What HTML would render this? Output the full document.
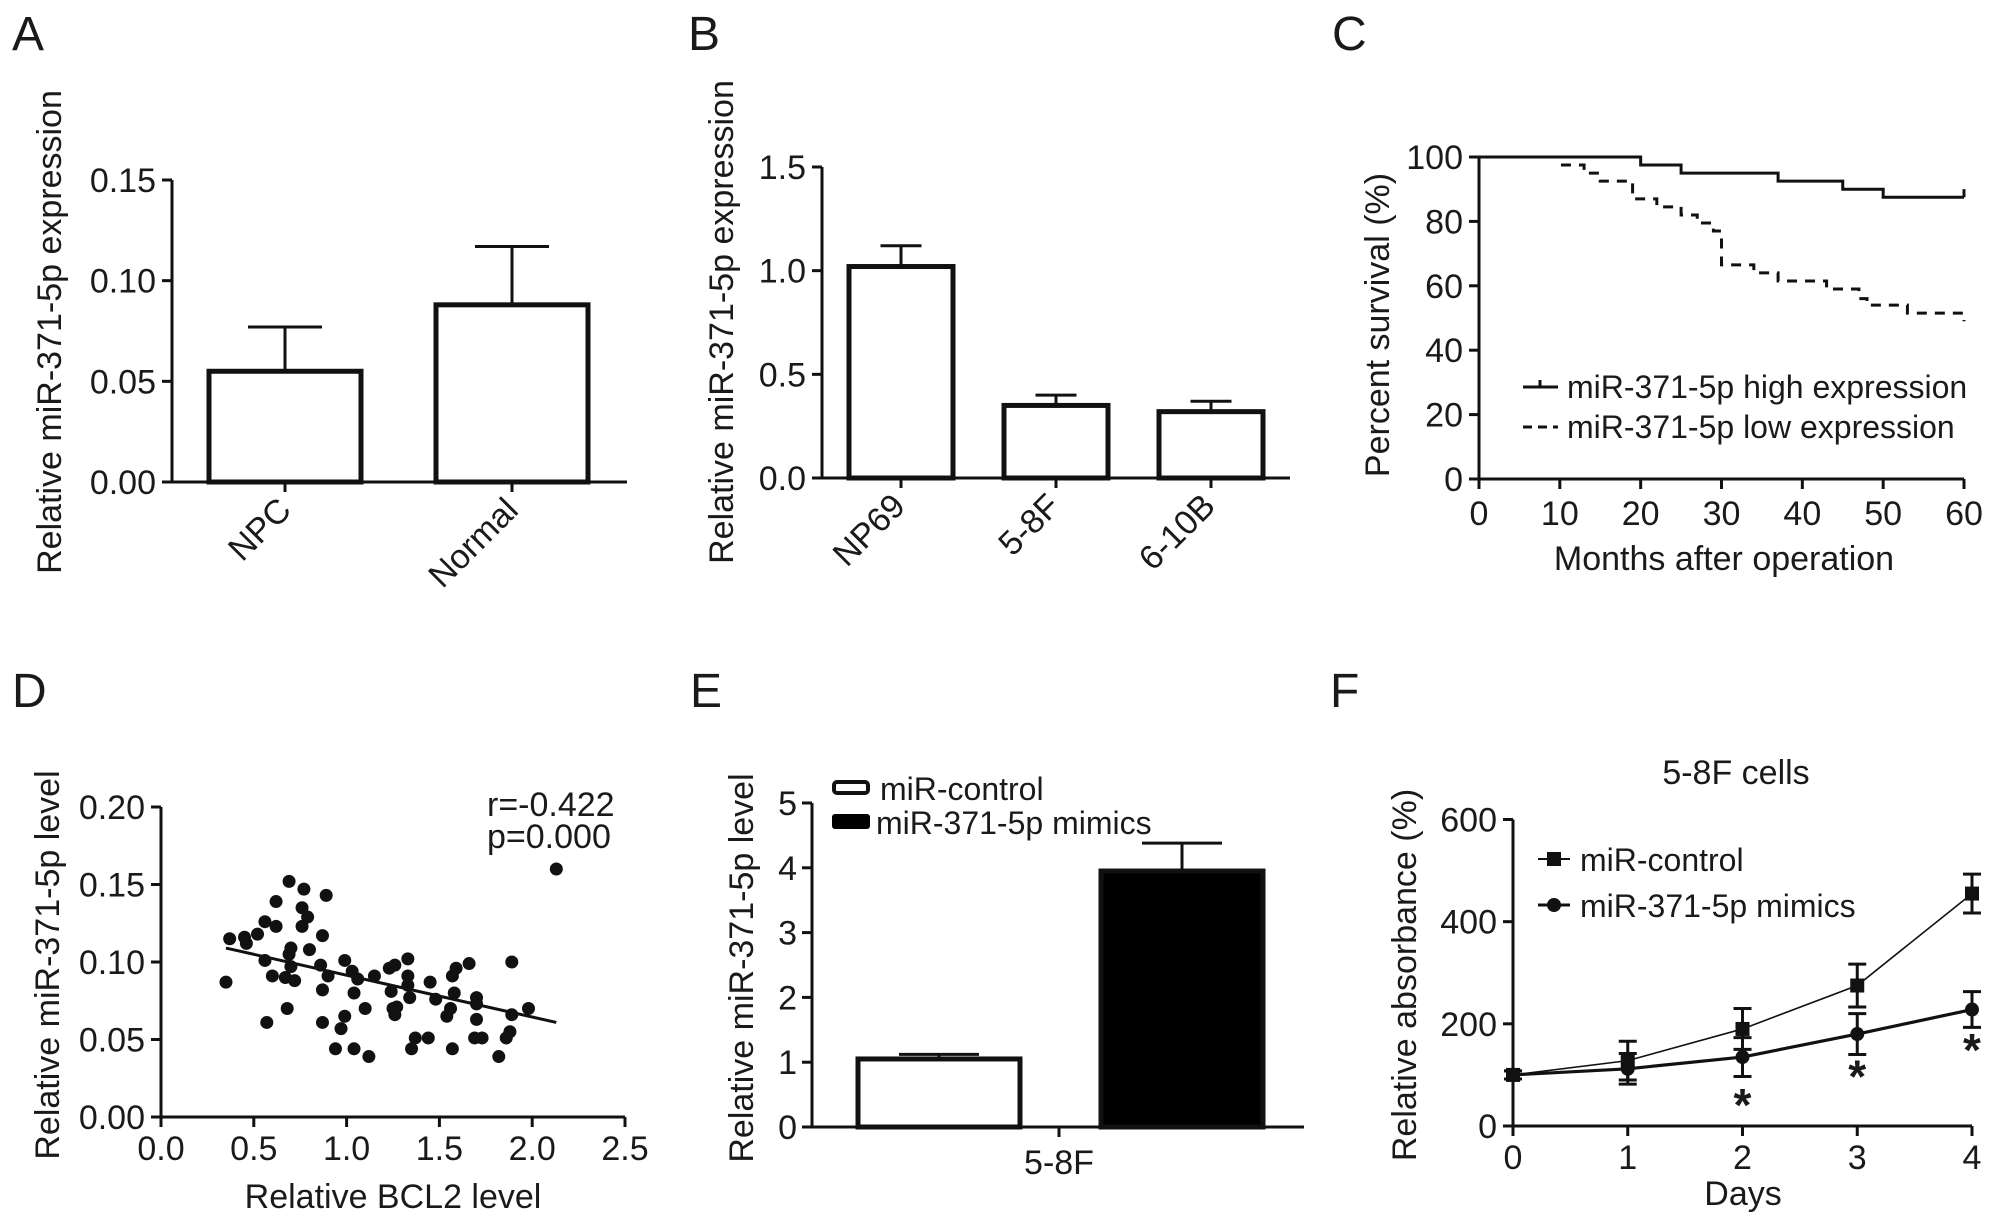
<!DOCTYPE html>
<html><head><meta charset="utf-8"><style>
html,body{margin:0;padding:0;background:#fff;}
svg{display:block;font-family:"Liberation Sans",Arial,sans-serif;}
text{fill:#1a1a1a;}
</style></head><body>
<svg id="fig" xmlns="http://www.w3.org/2000/svg" width="1995" height="1222" viewBox="0 0 1995 1222"></svg>
<script>
// ---------- Panel A data ----------
const aCategories = ["NPC", "Normal"];
const aValues = [0.055, 0.088];
const aErrors = [0.077, 0.117];
const aTicks = ["0.00", "0.05", "0.10", "0.15"];
// ---------- Panel B data ----------
const bCategories = ["NP69", "5-8F", "6-10B"];
const bValues = [1.02, 0.35, 0.32];
const bErrors = [1.12, 0.40, 0.37];
const bTicks = ["0.0", "0.5", "1.0", "1.5"];
// ---------- Panel C data ----------
const cHighX = [0, 20, 25, 37, 45, 50, 60];
const cHighY = [100, 97.5, 95, 92.5, 90, 87.5, 87.5];
const cLowX = [0, 10, 13, 15, 19, 22, 25, 27, 29, 30, 34, 37, 43, 47, 48, 53, 60];
const cLowY = [100, 97.5, 95, 92.5, 87, 84.5, 82, 79.5, 77, 66.5, 64, 61.5, 59, 56, 54, 51.5, 49];
const cYTicks = ["0", "20", "40", "60", "80", "100"];
const cXTicks = ["0", "10", "20", "30", "40", "50", "60"];
// ---------- Panel D data ----------
const dX = [0.35,0.37,0.45,0.46,0.52,0.56,0.56,0.57,0.60,0.62,0.62,0.67,0.68,0.69,0.69,0.70,0.70,0.72,0.76,0.76,0.77,0.79,0.80,0.86,0.87,0.87,0.87,0.89,0.90,0.94,0.97,0.99,0.99,1.03,1.04,1.04,1.06,1.10,1.12,1.15,1.23,1.24,1.25,1.26,1.26,1.27,1.33,1.33,1.33,1.34,1.35,1.37,1.44,1.45,1.48,1.54,1.56,1.57,1.57,1.58,1.59,1.66,1.69,1.70,1.70,1.70,1.73,1.82,1.86,1.88,1.89,1.89,1.98,2.13];
const dY = [0.087,0.115,0.116,0.112,0.118,0.126,0.101,0.061,0.091,0.123,0.139,0.090,0.070,0.152,0.105,0.097,0.109,0.088,0.135,0.123,0.147,0.129,0.108,0.098,0.117,0.082,0.061,0.143,0.091,0.044,0.057,0.101,0.065,0.094,0.044,0.080,0.089,0.070,0.039,0.091,0.096,0.081,0.070,0.098,0.066,0.071,0.102,0.091,0.085,0.077,0.044,0.051,0.051,0.087,0.076,0.065,0.070,0.044,0.091,0.080,0.096,0.099,0.051,0.077,0.073,0.063,0.051,0.039,0.051,0.055,0.066,0.100,0.070,0.160];
const dFitX = [0.35, 2.13];
const dFitY = [0.109, 0.061];
const dXTicks = ["0.0", "0.5", "1.0", "1.5", "2.0", "2.5"];
const dYTicks = ["0.00", "0.05", "0.10", "0.15", "0.20"];
// ---------- Panel E data ----------
const eSeries = ["miR-control", "miR-371-5p mimics"];
const eValues = [1.05, 3.95];
const eErrors = [1.12, 4.38];
const eTicks = ["0", "1", "2", "3", "4", "5"];
// ---------- Panel F data ----------
const fDays = [0, 1, 2, 3, 4];
const fControl = [100, 128, 190, 275, 455];
const fControlErr = [8, 38, 40, 42, 38];
const fMimics = [100, 112, 135, 180, 228];
const fMimicsErr = [8, 30, 38, 40, 35];
const fStarDays = [2, 3, 4];
const fStarY = [53, 109, 161];
const fYTicks = ["0", "200", "400", "600"];

const NS = "http://www.w3.org/2000/svg";
const svg = document.getElementById("fig");
function el(tag, attrs, parent, txt) {
  const e = document.createElementNS(NS, tag);
  for (const k in attrs) e.setAttribute(k, attrs[k]);
  if (txt !== undefined) e.textContent = txt;
  (parent || svg).appendChild(e);
  return e;
}
function lin(d0, d1, r0, r1) { return v => r0 + (v - d0) * (r1 - r0) / (d1 - d0); }
const FS = 34;

function panelLetter(t, x, y) {
  const e = el("text", {x: x, y: y, "font-size": 48}, svg, t);
  
  
}
function yAxis(g, ax, y, y0, y1, ticks, tickVals, tickRight) {
  const a = el("line", {x1: ax, y1: y(y0), x2: ax, y2: y(y1), stroke: "#111", "stroke-width": 3}, g);
  
  
  ticks.forEach((t, i) => {
    const yy = y(tickVals[i]);
    el("line", {x1: ax - 10, y1: yy, x2: ax, y2: yy, stroke: "#111", "stroke-width": 3}, g);
    const tx = el("text", {x: tickRight, y: yy + 12, "font-size": FS, "text-anchor": "end"}, g, t);
    
    
  });
}
function yTitle(g, t, cx, cy) {
  const e = el("text", {x: 0, y: 0, "font-size": FS, "text-anchor": "middle", transform: `translate(${cx},${cy}) rotate(-90)`, dy: "0.35em"}, g, t);
  
  
}

// ================= Panel A =================
(function () {
  const g = el("g", {});  
  panelLetter("A", 12, 50);
  const ax = 172, base = 482, xEnd = 627;
  const y = lin(0, 0.15, 482, 180);
  yAxis(g, ax, y, 0, 0.15, aTicks, aTicks.map(Number), 156);
  yTitle(g, "Relative miR-371-5p expression", 49, 332);
  el("line", {x1: ax, y1: base, x2: xEnd, y2: base, stroke: "#111", "stroke-width": 3}, g);
  const centers = [285, 512], bw = 152, cap = 74;
  aCategories.forEach((c, i) => {
    const cx = centers[i];
    const b = el("rect", {x: cx - bw/2, y: y(aValues[i]), width: bw, height: base - y(aValues[i]), fill: "#fff", stroke: "#111", "stroke-width": 5}, g);
    
    
    el("line", {x1: cx, y1: y(aValues[i]), x2: cx, y2: y(aErrors[i]), stroke: "#111", "stroke-width": 3}, g);
    el("line", {x1: cx - cap/2, y1: y(aErrors[i]), x2: cx + cap/2, y2: y(aErrors[i]), stroke: "#111", "stroke-width": 3}, g);
    el("line", {x1: cx, y1: base, x2: cx, y2: base + 10, stroke: "#111", "stroke-width": 3}, g);
    const t = el("text", {x: 0, y: 0, "font-size": FS, "text-anchor": "end", transform: `translate(${cx + 8},${base + 30}) rotate(-45)`}, g, c);
    
    
  });
})();

// ================= Panel B =================
(function () {
  const g = el("g", {});  
  panelLetter("B", 688, 50);
  const ax = 822, base = 478, xEnd = 1290;
  const y = lin(0, 1.5, 478, 167);
  yAxis(g, ax, y, 0, 1.5, bTicks, bTicks.map(Number), 806);
  yTitle(g, "Relative miR-371-5p expression", 721, 322);
  el("line", {x1: ax, y1: base, x2: xEnd, y2: base, stroke: "#111", "stroke-width": 3}, g);
  const centers = [901, 1056, 1211], bw = 104, cap = 41;
  bCategories.forEach((c, i) => {
    const cx = centers[i];
    const b = el("rect", {x: cx - bw/2, y: y(bValues[i]), width: bw, height: base - y(bValues[i]), fill: "#fff", stroke: "#111", "stroke-width": 5}, g);
    
    
    el("line", {x1: cx, y1: y(bValues[i]), x2: cx, y2: y(bErrors[i]), stroke: "#111", "stroke-width": 3}, g);
    el("line", {x1: cx - cap/2, y1: y(bErrors[i]), x2: cx + cap/2, y2: y(bErrors[i]), stroke: "#111", "stroke-width": 3}, g);
    el("line", {x1: cx, y1: base, x2: cx, y2: base + 10, stroke: "#111", "stroke-width": 3}, g);
    const t = el("text", {x: 0, y: 0, "font-size": FS, "text-anchor": "end", transform: `translate(${cx + 6},${base + 30}) rotate(-45)`}, g, c);
    
    
  });
})();

// ================= Panel C =================
(function () {
  const g = el("g", {});  
  panelLetter("C", 1332, 50);
  const x = lin(0, 60, 1479, 1964), y = lin(0, 100, 479, 157);
  yAxis(g, 1479, y, 0, 100, cYTicks, cYTicks.map(Number), 1463);
  yTitle(g, "Percent survival (%)", 1377, 325);
  el("line", {x1: 1479, y1: 479, x2: 1964, y2: 479, stroke: "#111", "stroke-width": 3}, g);
  cXTicks.forEach(t => {
    const xx = x(Number(t));
    el("line", {x1: xx, y1: 479, x2: xx, y2: 489, stroke: "#111", "stroke-width": 3}, g);
    const tx = el("text", {x: xx, y: 525, "font-size": FS, "text-anchor": "middle"}, g, t);
    
    
  });
  const xt = el("text", {x: 1724, y: 570, "font-size": FS, "text-anchor": "middle"}, g, "Months after operation");
  
  
  function step(xs, ys) {
    let d = `M${x(xs[0])},${y(ys[0])}`;
    for (let i = 1; i < xs.length; i++) d += ` H${x(xs[i])} V${y(ys[i])}`;
    return d;
  }
  const hi = el("path", {d: step(cHighX, cHighY), fill: "none", stroke: "#111", "stroke-width": 3}, g);
  
  
  el("line", {x1: x(60), y1: y(87.5), x2: x(60), y2: y(90), stroke: "#111", "stroke-width": 3}, g);
  const lo = el("path", {d: step(cLowX, cLowY), fill: "none", stroke: "#111", "stroke-width": 3, "stroke-dasharray": "10,8"}, g);
  
  
  const l1 = el("g", {}, g);  
  el("line", {x1: 1523, y1: 387, x2: 1558, y2: 387, stroke: "#111", "stroke-width": 3}, l1);
  el("line", {x1: 1540, y1: 380, x2: 1540, y2: 387, stroke: "#111", "stroke-width": 3}, l1);
  el("text", {x: 1567, y: 398, "font-size": 32}, l1, "miR-371-5p high expression");
  const l2 = el("g", {}, g);  
  el("line", {x1: 1523, y1: 427, x2: 1558, y2: 427, stroke: "#111", "stroke-width": 3, "stroke-dasharray": "9,6"}, l2);
  el("text", {x: 1567, y: 438, "font-size": 32}, l2, "miR-371-5p low expression");
})();

// ================= Panel D =================
(function () {
  const g = el("g", {});  
  panelLetter("D", 12, 707);
  const x = lin(0, 2.5, 161, 625), y = lin(0, 0.2, 1117, 807);
  yAxis(g, 161, y, 0, 0.2, dYTicks, dYTicks.map(Number), 145);
  yTitle(g, "Relative miR-371-5p level", 47, 965);
  el("line", {x1: 161, y1: 1117, x2: 625, y2: 1117, stroke: "#111", "stroke-width": 3}, g);
  dXTicks.forEach(t => {
    const xx = x(Number(t));
    el("line", {x1: xx, y1: 1117, x2: xx, y2: 1127, stroke: "#111", "stroke-width": 3}, g);
    const tx = el("text", {x: xx, y: 1160, "font-size": FS, "text-anchor": "middle"}, g, t);
    
    
  });
  const xt = el("text", {x: 393, y: 1208, "font-size": FS, "text-anchor": "middle"}, g, "Relative BCL2 level");
  
  
  dX.forEach((v, i) => {
    const c = el("circle", {cx: x(v), cy: y(dY[i]), r: 6.5, fill: "#111"}, g);
    
    
  });
  const f = el("line", {x1: x(dFitX[0]), y1: y(dFitY[0]), x2: x(dFitX[1]), y2: y(dFitY[1]), stroke: "#111", "stroke-width": 3}, g);
  
  
  const a1 = el("text", {x: 487, y: 816, "font-size": FS}, g, "r=-0.422");
  
  
  const a2 = el("text", {x: 487, y: 848, "font-size": FS}, g, "p=0.000");
  
  
})();

// ================= Panel E =================
(function () {
  const g = el("g", {});  
  panelLetter("E", 690, 707);
  const y = lin(0, 5, 1127, 803), base = 1127;
  yAxis(g, 812, y, 0, 5, eTicks, eTicks.map(Number), 797);
  yTitle(g, "Relative miR-371-5p level", 741, 968);
  el("line", {x1: 812, y1: base, x2: 1304, y2: base, stroke: "#111", "stroke-width": 3}, g);
  el("line", {x1: 1059, y1: base, x2: 1059, y2: base + 10, stroke: "#111", "stroke-width": 3}, g);
  const xl = el("text", {x: 1059, y: 1174, "font-size": FS, "text-anchor": "middle"}, g, "5-8F");
  
  
  const centers = [939, 1182], bw = 162, cap = 80, fills = ["#fff", "#000"];
  eSeries.forEach((s, i) => {
    const cx = centers[i];
    el("line", {x1: cx, y1: y(eValues[i]), x2: cx, y2: y(eErrors[i]), stroke: "#111", "stroke-width": 3}, g);
    el("line", {x1: cx - cap/2, y1: y(eErrors[i]), x2: cx + cap/2, y2: y(eErrors[i]), stroke: "#111", "stroke-width": 3}, g);
    const b = el("rect", {x: cx - bw/2, y: y(eValues[i]), width: bw, height: base - y(eValues[i]), fill: fills[i], stroke: "#111", "stroke-width": 5}, g);
    
    
  });
  const l1 = el("g", {}, g);  
  el("rect", {x: 834, y: 782, width: 34, height: 11, rx: 3, fill: "#fff", stroke: "#111", "stroke-width": 4}, l1);
  el("text", {x: 880, y: 800, "font-size": 32}, l1, eSeries[0]);
  const l2 = el("g", {}, g);  
  el("rect", {x: 832, y: 814, width: 38, height: 15, rx: 3, fill: "#000"}, l2);
  el("text", {x: 876, y: 834, "font-size": 32}, l2, eSeries[1]);
})();

// ================= Panel F =================
(function () {
  const g = el("g", {});  
  panelLetter("F", 1330, 707);
  const x = lin(0, 4, 1513, 1972), y = lin(0, 600, 1126, 819.5);
  yAxis(g, 1513, y, 0, 600, fYTicks, fYTicks.map(Number), 1497);
  yTitle(g, "Relative absorbance (%)", 1404, 975);
  el("line", {x1: 1513, y1: 1126, x2: 1972, y2: 1126, stroke: "#111", "stroke-width": 3}, g);
  fDays.forEach(d => {
    el("line", {x1: x(d), y1: 1126, x2: x(d), y2: 1136, stroke: "#111", "stroke-width": 3}, g);
    const tx = el("text", {x: x(d), y: 1169, "font-size": FS, "text-anchor": "middle"}, g, String(d));
    
    
  });
  const xt = el("text", {x: 1743, y: 1205, "font-size": FS, "text-anchor": "middle"}, g, "Days");
  
  
  const tt = el("text", {x: 1736, y: 784, "font-size": FS, "text-anchor": "middle"}, g, "5-8F cells");
  
  
  function series(vals, errs, sw, name, square) {
    const pts = fDays.map((d, i) => `${x(d)},${y(vals[i])}`).join(" ");
    const pl = el("polyline", {points: pts, fill: "none", stroke: "#111", "stroke-width": sw}, g);
    
    
    fDays.forEach((d, i) => {
      const cx = x(d), lo = y(vals[i] - errs[i]), hi = y(vals[i] + errs[i]);
      el("line", {x1: cx, y1: lo, x2: cx, y2: hi, stroke: "#111", "stroke-width": 3}, g);
      el("line", {x1: cx - 9, y1: lo, x2: cx + 9, y2: lo, stroke: "#111", "stroke-width": 3}, g);
      el("line", {x1: cx - 9, y1: hi, x2: cx + 9, y2: hi, stroke: "#111", "stroke-width": 3}, g);
      let m;
      if (square) m = el("rect", {x: cx - 7, y: y(vals[i]) - 7, width: 14, height: 14, fill: "#111"}, g);
      else m = el("circle", {cx: cx, cy: y(vals[i]), r: 7, fill: "#111"}, g);
      
      
    });
  }
  series(fControl, fControlErr, 1.6, 'control', true);
  series(fMimics, fMimicsErr, 3.2, 'mimics', false);
  fStarDays.forEach((d, i) => {
    const s = el("text", {x: x(d), y: y(fStarY[i]) + 22, "font-size": 46, "font-weight": "bold", "text-anchor": "middle"}, g, "*");
    
    
  });
  const l1 = el("g", {}, g);  
  el("line", {x1: 1538, y1: 859, x2: 1570, y2: 859, stroke: "#111", "stroke-width": 2}, l1);
  el("rect", {x: 1547, y: 852, width: 14, height: 14, fill: "#111"}, l1);
  el("text", {x: 1580, y: 871, "font-size": 32}, l1, "miR-control");
  const l2 = el("g", {}, g);  
  el("line", {x1: 1538, y1: 905, x2: 1570, y2: 905, stroke: "#111", "stroke-width": 3}, l2);
  el("circle", {cx: 1554, cy: 905, r: 7, fill: "#111"}, l2);
  el("text", {x: 1580, y: 917, "font-size": 32}, l2, "miR-371-5p mimics");
})();
</script>
</body></html>
